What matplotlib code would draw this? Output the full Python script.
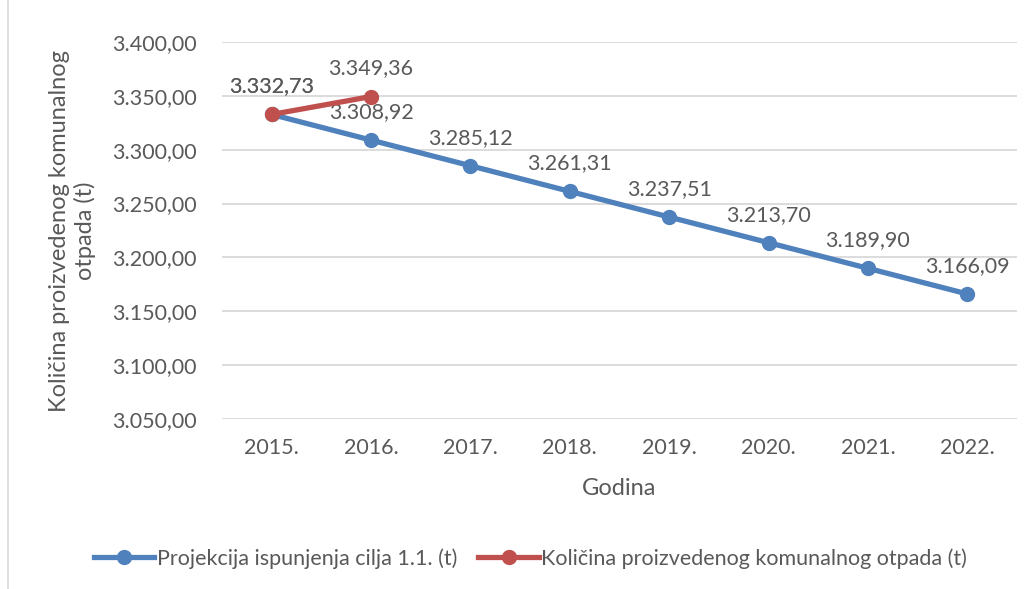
import matplotlib.pyplot as plt
from matplotlib.patches import Rectangle

# data
godine = ['2015.', '2016.', '2017.', '2018.', '2019.', '2020.', '2021.', '2022.']
projekcija = [3332.73, 3308.92, 3285.12, 3261.31, 3237.51, 3213.70, 3189.90, 3166.09]
kolicina = [3332.73, 3349.36]

plava = '#4F81BD'
crvena = '#C0504D'
siva = '#595959'

plt.rcParams['font.family'] = ['Lato', 'DejaVu Sans']


def fmt(v):
    # 3332.73 -> 3.332,73
    s = '{:,.2f}'.format(v)
    return s.replace(',', ' ').replace('.', ',').replace(' ', '.')


fig = plt.figure(figsize=(10.3, 5.89), dpi=100)
ax = fig.add_axes([0.2155, 0.2886, 0.7719, 0.6401])

# outer chart border
fig.patches.append(Rectangle((8 / 1030, -0.2), 1.2, 1.2 + 1 - 13 / 589,
                             transform=fig.transFigure, fill=False,
                             edgecolor='#D9D9D9', linewidth=1.2))

x = list(range(len(godine)))
ax.plot(x, projekcija, color=plava, linewidth=3.8, marker='o', markersize=10,
        label='Projekcija ispunjenja cilja 1.1. (t)', zorder=3)
ax.plot(x[:len(kolicina)], kolicina, color=crvena, linewidth=3.8, marker='o',
        markersize=10, label='Količina proizvedenog komunalnog otpada (t)', zorder=4)

for i, v in enumerate(projekcija):
    ax.annotate(fmt(v), (i, v), xytext=(0, 13), textcoords='offset points',
                ha='center', va='bottom', fontsize=15.5, color=siva)
for i, v in enumerate(kolicina):
    ax.annotate(fmt(v), (i, v), xytext=(0, 13), textcoords='offset points',
                ha='center', va='bottom', fontsize=15.5, color=siva)

ax.set_xlim(-0.5, len(godine) - 0.5)
ax.set_ylim(3050, 3400)
ax.set_yticks([3050, 3100, 3150, 3200, 3250, 3300, 3350, 3400])
ax.set_yticklabels([fmt(t) for t in ax.get_yticks()])
ax.set_xticks(x)
ax.set_xticklabels(godine)
ax.tick_params(length=0, labelsize=15.5, labelcolor=siva)
ax.tick_params(axis='y', pad=18)
ax.tick_params(axis='x', pad=14)
ax.grid(axis='y', color='#D9D9D9', linewidth=1.3)
ax.set_axisbelow(True)
for s in ax.spines.values():
    s.set_visible(False)

ax.set_xlabel('Godina', fontsize=17, color=siva, labelpad=14)
ax.set_ylabel('Količina proizvedenog komunalnog\notpada (t)', fontsize=17,
              color=siva, labelpad=12)

fig.legend(loc='center', bbox_to_anchor=(0.515, 0.052), ncol=2, frameon=False,
           fontsize=15.5, labelcolor=siva, handlelength=2.8, handletextpad=0.1,
           columnspacing=1.0)

fig.savefig('out.png', dpi=100)
